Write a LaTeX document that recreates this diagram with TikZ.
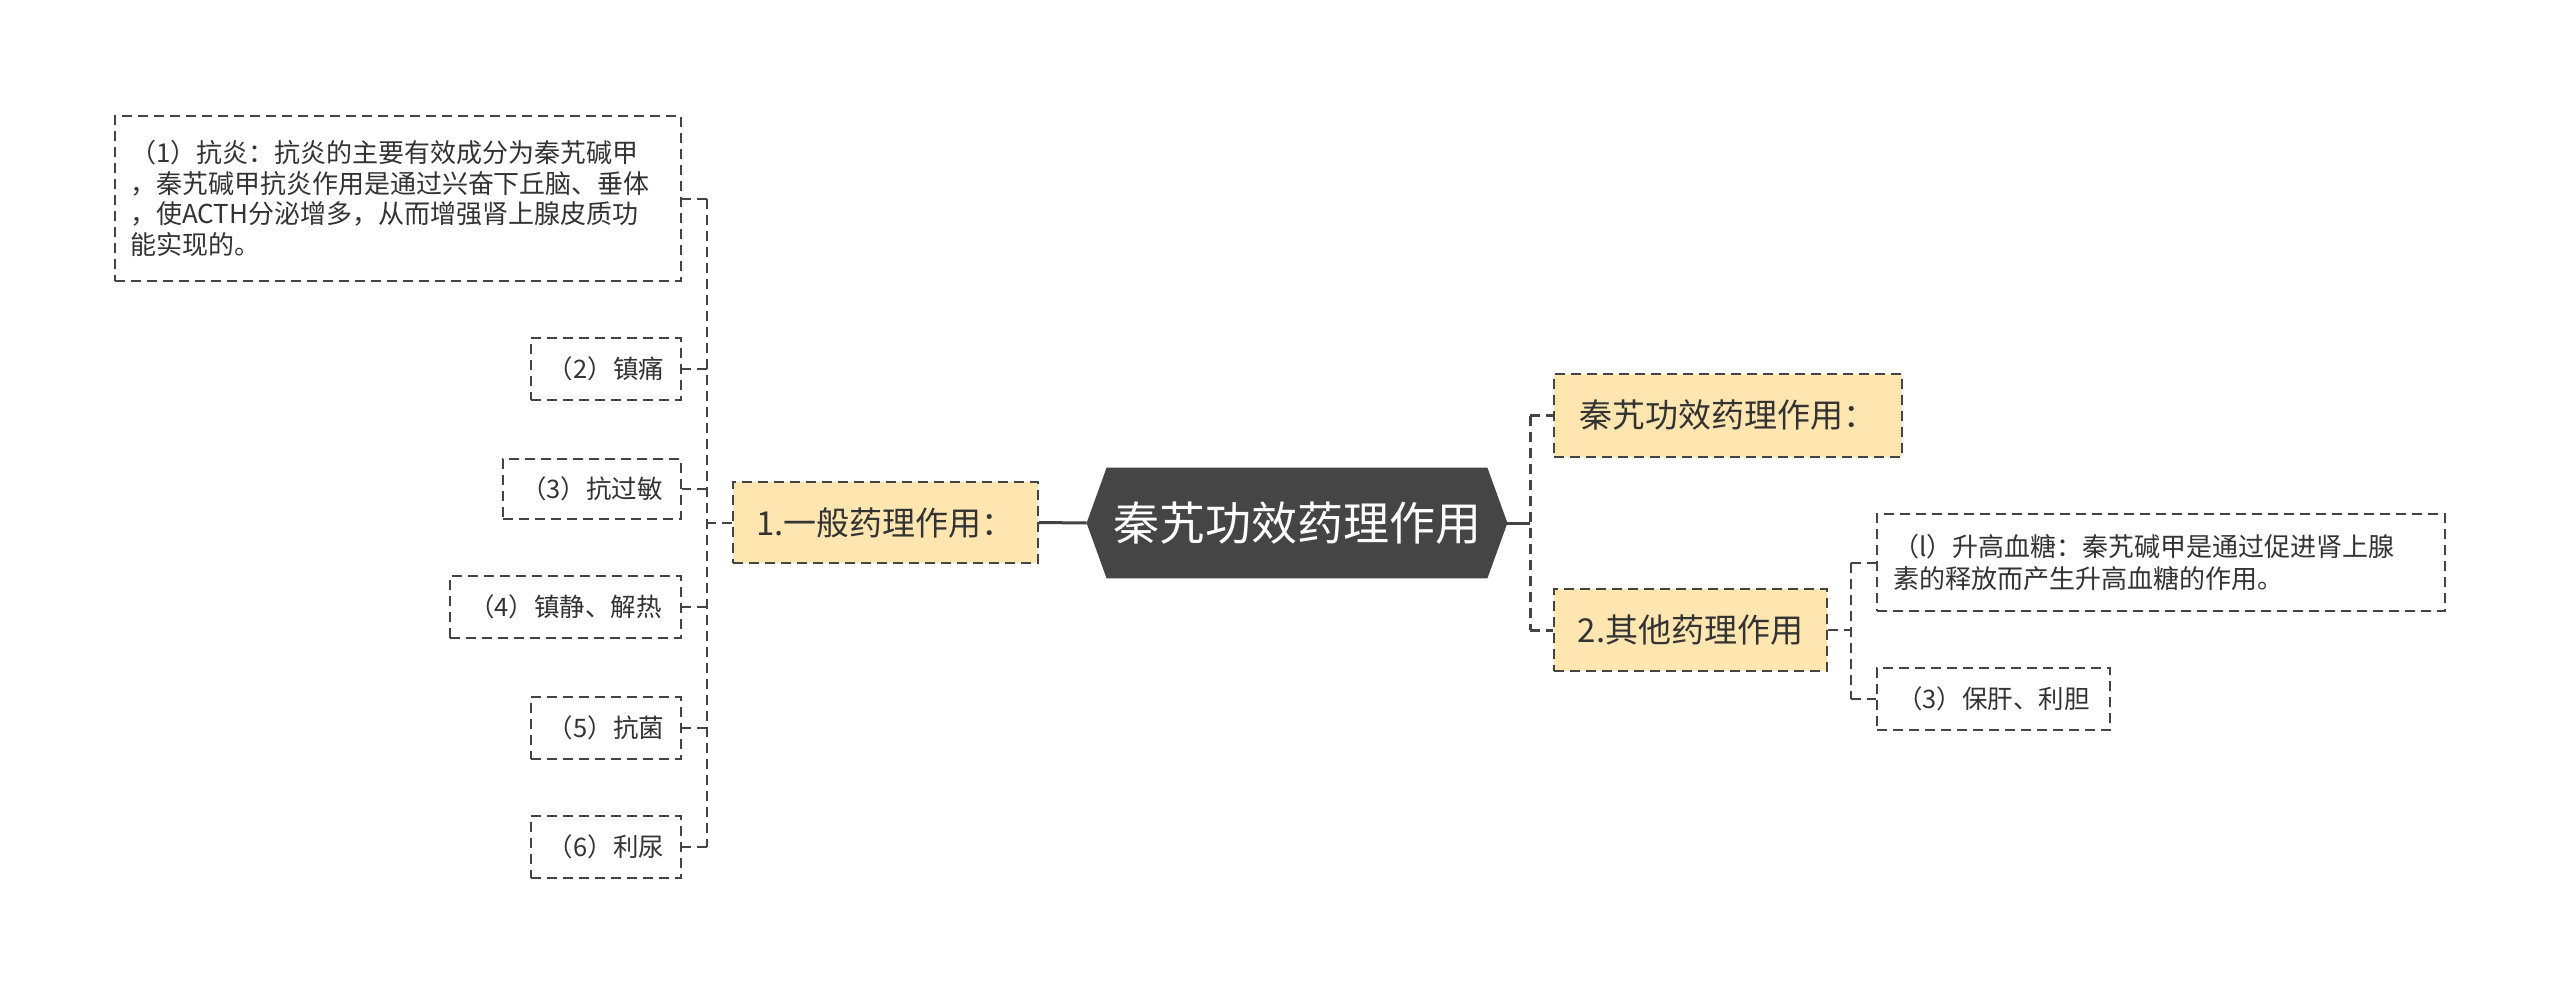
\documentclass[tikz,border=0pt]{standalone}
\usepackage{fontspec}
\setmainfont{Noto Sans CJK SC}
\usetikzlibrary{backgrounds}
\definecolor{linec}{HTML}{444444}
\definecolor{hubfill}{HTML}{454545}
\definecolor{lvfill}{HTML}{FFE6B0}
\definecolor{txt}{HTML}{333333}
\tikzset{
  dsh/.style={dash pattern=on 5pt off 3pt},
  leaf/.style={draw=linec, dsh, line width=1pt, text=txt, inner sep=0pt,
    font=\fontsize{12.75}{16}\selectfont, minimum height=31pt},
  lvl/.style={draw=linec, dsh, line width=1pt, fill=lvfill, text=txt, inner sep=0pt,
    font=\fontsize{16.5}{20}\selectfont},
  conn/.style={draw=linec, dsh, line width=1pt},
  hubconn/.style={draw=linec, line width=1.5pt},
  hubconnd/.style={draw=linec, dsh, line width=1.5pt},
}
\begin{document}
\begin{tikzpicture}[x=0.5pt, y=-0.5pt]
\begin{scope}[on background layer]
\fill[white] (0,0) rectangle (2560,995);
\end{scope}
\useasboundingbox (0,0) rectangle (2560,995);

% hub
\node[font=\fontsize{23}{27}\selectfont, text=white, minimum width=210pt, minimum height=55pt, inner sep=0pt] (hub) at (1297,523) {秦艽功效药理作用};
\begin{scope}[on background layer]
\fill[hubfill] (hub.west) -- ([xshift=10pt]hub.north west) -- ([xshift=-10pt]hub.north east) -- (hub.east) -- ([xshift=-10pt]hub.south east) -- ([xshift=10pt]hub.south west) -- cycle;
\end{scope}

% level 1
\node[lvl, minimum width=152.5pt, minimum height=40.5pt] (L1) at (885.5,522.5) {1.一般药理作用：};
\node[lvl, minimum width=174pt, minimum height=41.5pt] (R1) at (1728,415.5) {秦艽功效药理作用：};
\node[lvl, minimum width=136.5pt, minimum height=41pt] (R2) at (1690.5,630) {2.其他药理作用};

% left leaves
\node[leaf, anchor=east, minimum height=82.5pt, text width=268pt, inner xsep=7.5pt, align=left, font=\fontsize{13}{15.25}\selectfont] (c1) at (682,198.5)
  {（1）抗炎：抗炎的主要有效成分为秦艽碱甲\\，秦艽碱甲抗炎作用是通过兴奋下丘脑、垂体\\，使ACTH分泌增多，从而增强肾上腺皮质功\\能实现的。};
\node[leaf, anchor=east, minimum width=75pt] (c2) at (682,369) {（2）镇痛};
\node[leaf, anchor=east, minimum width=89pt, minimum height=30pt] (c3) at (682,489) {（3）抗过敏};
\node[leaf, anchor=east, minimum width=115.5pt] (c4) at (682,607) {（4）镇静、解热};
\node[leaf, anchor=east, minimum width=75pt] (c5) at (682,728) {（5）抗菌};
\node[leaf, anchor=east, minimum width=75pt] (c6) at (682,847) {（6）利尿};

% right leaves
\node[leaf, anchor=west, minimum height=48.5pt, text width=268pt, inner xsep=8pt, align=left, font=\fontsize{13}{16}\selectfont] (r1) at (1876,562.5)
  {（l）升高血糖：秦艽碱甲是通过促进肾上腺\\素的释放而产生升高血糖的作用。};
\node[leaf, anchor=west, minimum width=116.5pt] (r3) at (1876,699) {（3）保肝、利胆};

% junctions
\coordinate (jl) at (707,522.5);
\coordinate (jr) at (1530,523);
\coordinate (jr2) at (1851,630);

% hub connectors
\draw[hubconn] (hub.west) -- (L1.east);
\draw[hubconn] (hub.east) -- (jr);
\draw[hubconnd] (jr|-R1.west) -- (jr|-R2.west);
\draw[hubconnd] (jr|-R1.west) -- (R1.west);
\draw[hubconnd] (jr|-R2.west) -- (R2.west);

% left tree
\draw[conn] (L1.west) -- (jl);
\draw[conn] (jl|-c1.east) -- (jl|-c6.east);
\foreach \n in {c1,c2,c3,c4,c5,c6} {\draw[conn] (jl|-\n.east) -- (\n.east);}

% right subtree
\draw[conn] (R2.east) -- (jr2);
\draw[conn] (jr2|-r1.west) -- (jr2|-r3.west);
\draw[conn] (jr2|-r1.west) -- (r1.west);
\draw[conn] (jr2|-r3.west) -- (r3.west);
\end{tikzpicture}
\end{document}
